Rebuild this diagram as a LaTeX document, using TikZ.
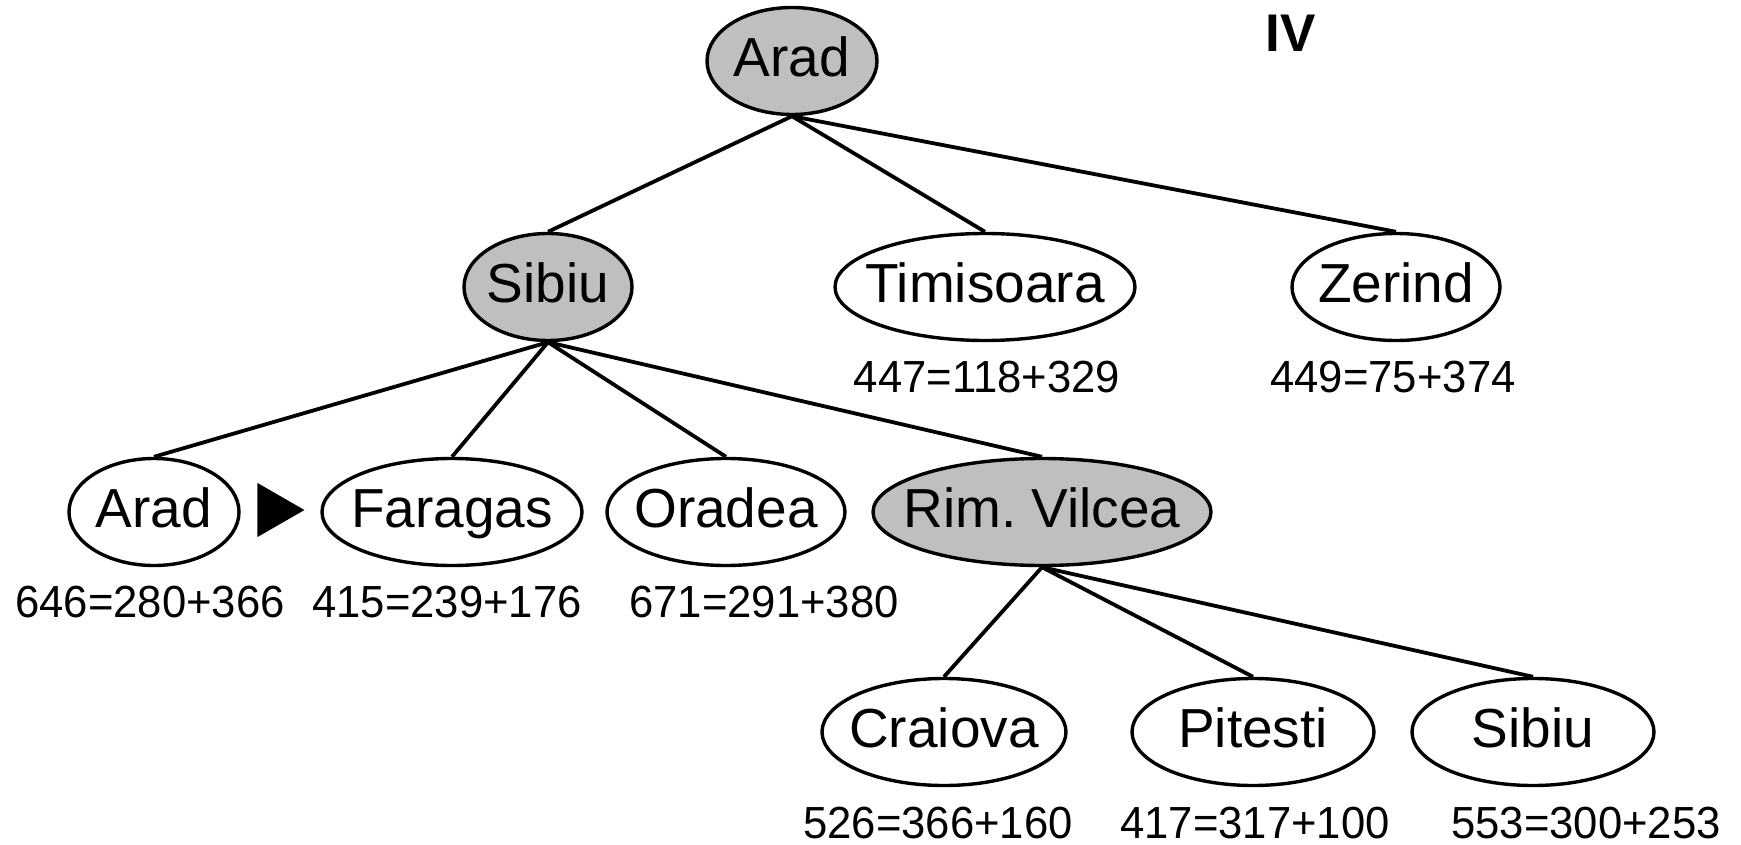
\documentclass[tikz,border=0pt]{standalone}
\usepackage{fontspec}
\setmainfont{Liberation Sans}
\usetikzlibrary{shapes.geometric}
\newcommand{\costof}[1]{\scalebox{0.97}[1]{#1}}
\begin{document}
\begin{tikzpicture}[x=1pt,y=-1pt,
  city/.style={ellipse,draw=black,line width=3.4pt,fill=white,inner sep=0pt,
    minimum height=107pt},
  open/.style={city,fill=white},
  expanded/.style={city,fill=black!25},
  citytext/.style={font=\fontsize{55}{62}\selectfont,text height=39pt,text depth=0pt,
    inner sep=0pt,yshift=4pt},
  cost/.style={font=\fontsize{45}{52}\selectfont,anchor=base,inner sep=0pt},
  edge/.style={line width=3.8pt}]
\useasboundingbox (0,0) rectangle (1741,845);

% root
\node[expanded,minimum width=170pt,label={[citytext]center:Arad}] (arad) at (792,61) {};
\node[font=\bfseries\fontsize{53}{60}\selectfont,inner sep=0pt] (step4) at (1291,33) {IV};

% depth 1
\node[expanded,minimum width=168pt,label={[citytext]center:Sibiu}] (sibiu) at (548,287) {};
\node[open,minimum width=300pt,label={[citytext]center:Timisoara}] (timisoara) at (985,287) {};
\node[open,minimum width=208pt,label={[citytext]center:Zerind}] (zerind) at (1396,287) {};
\node[cost] (ctim) at (987,392) {\costof{447=118+329}};
\node[cost] (czer) at (1393,392) {\costof{449=75+374}};

% depth 2
\node[open,minimum width=170pt,label={[citytext]center:Arad}] (arad2) at (154,512) {};
\node[open,minimum width=260pt,label={[citytext]center:Faragas}] (faragas) at (452,512) {};
\node[open,minimum width=238pt,label={[citytext]center:Oradea}] (oradea) at (726,512) {};
\node[expanded,minimum width=338pt,label={[citytext]center:Rim.\ Vilcea}] (rimnicu) at (1042,512) {};
\node[cost] (carad) at (150,617) {\costof{646=280+366}};
\node[cost] (cfar) at (447,617) {\costof{415=239+176}};
\node[cost] (cora) at (764,617) {\costof{671=291+380}};

% marker pointing to the next node to expand
\node[isosceles triangle,fill=black,inner sep=0pt,minimum height=47pt,
  minimum width=54pt,isosceles triangle stretches,anchor=apex] (next) at (305,510) {};

% depth 3
\node[open,minimum width=244pt,label={[citytext]center:Craiova}] (craiova) at (944,732) {};
\node[open,minimum width=242pt,label={[citytext]center:Pitesti}] (pitesti) at (1253,732) {};
\node[open,minimum width=242pt,label={[citytext]center:Sibiu}] (sibiu2) at (1533,732) {};
\node[cost] (ccra) at (938,838) {\costof{526=366+160}};
\node[cost] (cpit) at (1255,838) {\costof{417=317+100}};
\node[cost] (csib) at (1586,838) {\costof{553=300+253}};

% tree edges
\foreach \p/\c in {arad/sibiu,arad/timisoara,arad/zerind,
  sibiu/arad2,sibiu/faragas,sibiu/oradea,sibiu/rimnicu,
  rimnicu/craiova,rimnicu/pitesti,rimnicu/sibiu2}
  \draw[edge] (\p.south) -- (\c.north);
\end{tikzpicture}
\end{document}
